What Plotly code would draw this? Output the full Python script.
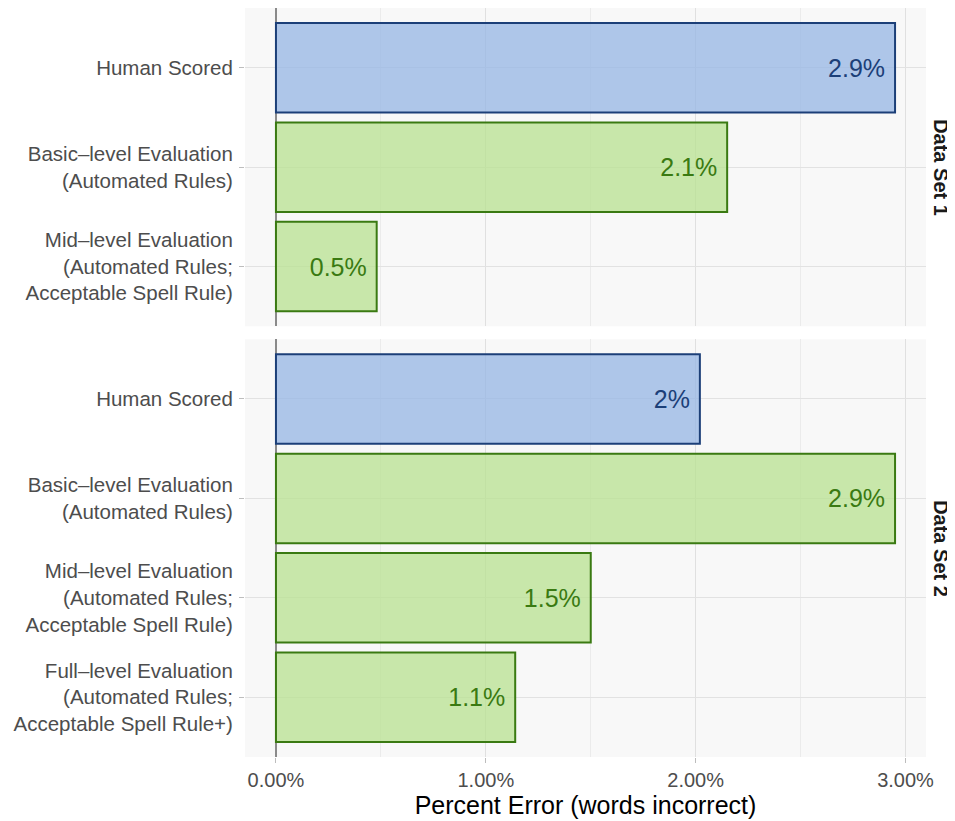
import plotly.graph_objects as go
from plotly.subplots import make_subplots

# ---- data ----
ds1_categories = ["Human Scored",
                  "Basic–level Evaluation<br>(Automated Rules)",
                  "Mid–level Evaluation<br>(Automated Rules;<br>Acceptable Spell Rule)"]
ds1_values = [2.95, 2.15, 0.48]
ds1_labels = ["2.9%", "2.1%", "0.5%"]
ds1_groups = ["human", "auto", "auto"]

ds2_categories = ["Human Scored",
                  "Basic–level Evaluation<br>(Automated Rules)",
                  "Mid–level Evaluation<br>(Automated Rules;<br>Acceptable Spell Rule)",
                  "Full–level Evaluation<br>(Automated Rules;<br>Acceptable Spell Rule+)"]
ds2_values = [2.02, 2.95, 1.50, 1.14]
ds2_labels = ["2%", "2.9%", "1.5%", "1.1%"]
ds2_groups = ["human", "auto", "auto", "auto"]

facet_labels = ["Data Set 1", "Data Set 2"]
x_tickvals = [0, 1, 2, 3]
x_ticktext = ["0.00%", "1.00%", "2.00%", "3.00%"]

# ---- styles ----
FILL = {"human": "rgba(150,182,228,0.75)", "auto": "rgba(184,225,144,0.75)"}
EDGE = {"human": "#1c3f78", "auto": "#3a7a12"}
TXT = {"human": "#1c3f78", "auto": "#3a7a12"}
FONT = "Liberation Sans, Arial, sans-serif"

fig = make_subplots(rows=2, cols=1, shared_xaxes=True,
                    row_heights=[3.2, 4.2], vertical_spacing=13 / 749)

for r, (cats, vals, labs, grps) in enumerate(
        [(ds1_categories, ds1_values, ds1_labels, ds1_groups),
         (ds2_categories, ds2_values, ds2_labels, ds2_groups)], start=1):
    fig.add_trace(go.Bar(
        x=vals, y=cats, orientation="h", width=0.9,
        marker=dict(color=[FILL[g] for g in grps],
                    line=dict(color=[EDGE[g] for g in grps], width=2)),
        text=[l + "\u00a0" for l in labs], textposition="inside",
        insidetextanchor="end", constraintext="none",
        textfont=dict(size=25, color=[TXT[g] for g in grps], family=FONT),
        showlegend=False, hoverinfo="skip",
    ), row=r, col=1)
    fig.update_yaxes(
        categoryorder="array", categoryarray=cats,
        range=[len(cats) - 0.4, -0.6],
        showgrid=True, gridcolor="#e2e2e2", gridwidth=1.3,
        ticks="outside", ticklen=5, tickcolor="#bdbdbd", tickwidth=1.2,
        ticklabelstandoff=2,
        tickfont=dict(size=20.5, color="#4d4d4d", family=FONT),
        showline=False, zeroline=False, automargin=False,
        row=r, col=1)
    fig.update_xaxes(
        range=[-0.1475, 3.0975],
        tickvals=x_tickvals, ticktext=x_ticktext,
        showgrid=True, gridcolor="#e0e0e0", gridwidth=1.3,
        minor=dict(dtick=0.5, tick0=0, showgrid=True, gridcolor="#ebebeb", gridwidth=1),
        zeroline=True, zerolinecolor="#8a8a8a", zerolinewidth=2,
        showline=False, automargin=False,
        row=r, col=1)

fig.update_xaxes(ticks="outside", ticklen=5, tickcolor="#bdbdbd", tickwidth=1.2,
                 tickfont=dict(size=20, color="#4d4d4d", family=FONT),
                 title=dict(text="Percent Error (words incorrect)",
                            font=dict(size=25, color="#000000", family=FONT),
                            standoff=2),
                 row=2, col=1)

for i, lab in enumerate(facet_labels):
    yref = "y domain" if i == 0 else "y2 domain"
    fig.add_annotation(text="<b>" + lab + "</b>", xref="paper", yref=yref,
                       x=1, y=0.5, xanchor="center", yanchor="middle",
                       xshift=15, textangle=90, showarrow=False,
                       font=dict(size=20, color="#1a1a1a", family=FONT))

fig.update_layout(
    width=947, height=813,
    margin=dict(l=237, r=29, t=0, b=64),
    paper_bgcolor="white", plot_bgcolor="#f8f8f8",
    bargap=0.1, font=dict(family=FONT),
)

fig.write_html("out.html")
